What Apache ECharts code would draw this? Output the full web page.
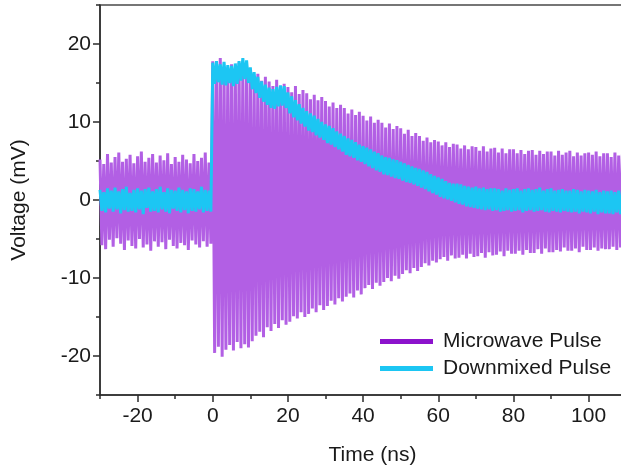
<!DOCTYPE html>
<html>
<head>
<meta charset="utf-8">
<script src="https://cdn.jsdelivr.net/npm/echarts@6/dist/echarts.min.js"></script>
<style>html,body{margin:0;padding:0;background:#fff}#c{width:621px;height:473px}</style>
</head>
<body>
<div id="c"></div>
<script>
// Time grid of the sampled traces (ns)
const T0 = -30;
const DT = 0.5;
// Microwave pulse (mV), one value every DT starting at T0
const microwave = [
  5.2,-5.8,4.6,-6.3,5.9,-5.1,4.8,-6.0,5.5,-4.9,
  6.1,-5.6,4.9,-6.4,5.3,-5.2,5.8,-5.9,4.7,-6.2,
  5.6,-5.0,6.2,-6.1,4.9,-5.7,5.4,-6.5,5.9,-5.3,
  4.8,-6.0,5.7,-5.4,5.1,-6.3,6.0,-5.1,4.6,-5.9,
  5.5,-6.2,4.9,-5.5,5.8,-5.8,5.2,-6.4,4.7,-5.2,
  5.9,-5.7,5.0,-6.1,5.4,-5.3,6.1,-6.0,4.8,-5.6,
  17.8,-19.6,16.9,-18.8,18.2,-20.1,17.1,-19.2,16.5,-18.6,
  17.4,-19.3,16.6,-18.2,17.6,-19.0,16.8,-18.5,17.2,-18.9,
  16.4,-18.1,15.6,-17.4,16.2,-16.9,15.3,-17.6,15.8,-16.3,
  15.2,-16.8,14.6,-15.9,15.4,-16.4,14.3,-15.4,14.9,-16.0,
  14.5,-15.6,13.8,-14.9,14.6,-15.2,13.6,-14.4,14.1,-15.0,
  13.7,-14.6,12.9,-13.9,13.5,-14.4,12.8,-13.5,13.2,-14.1,
  12.7,-13.6,12.0,-12.9,12.5,-13.4,11.8,-12.6,12.2,-13.0,
  11.8,-12.4,11.1,-12.0,11.6,-12.5,10.9,-11.6,11.3,-12.1,
  10.8,-11.3,10.2,-10.9,10.7,-11.4,9.9,-10.6,10.3,-11.0,
  9.9,-10.5,9.3,-10.0,9.8,-10.4,9.1,-9.7,9.5,-10.1,
  9.2,-9.5,8.5,-9.0,9.0,-9.4,8.2,-8.7,8.6,-9.1,
  8.2,-8.6,7.6,-8.1,8.0,-8.4,7.4,-7.8,7.7,-8.0,
  7.5,-7.6,7.0,-7.3,7.4,-7.8,6.8,-7.1,7.2,-7.5,
  7.1,-7.4,6.6,-7.0,7.0,-7.5,6.5,-6.9,6.9,-7.3,
  6.8,-7.2,6.3,-6.8,6.9,-7.4,6.2,-6.7,6.6,-7.1,
  6.7,-7.0,6.1,-6.6,6.6,-7.2,6.0,-6.5,6.5,-6.9,
  6.5,-6.9,6.0,-6.5,6.4,-7.0,5.9,-6.4,6.3,-6.8,
  6.4,-6.8,5.8,-6.3,6.3,-6.9,5.9,-6.2,6.2,-6.7,
  6.2,-6.7,5.7,-6.4,6.3,-6.6,5.8,-6.1,6.1,-6.5,
  6.3,-6.5,5.6,-6.2,6.1,-6.7,5.7,-6.0,6.0,-6.4,
  6.1,-6.4,5.8,-6.1,6.2,-6.5,5.6,-6.2,6.0,-6.3,
  6.0,-6.3,5.5,-6.0,6.1,-6.4,5.7,-6.1,5.9,-6.2
];
// Downmixed pulse (mV), one value every DT starting at T0
const downmixed = [
  1.3,-1.4,1.0,-1.6,1.5,-1.1,1.2,-1.5,1.6,-1.2,
  1.1,-1.7,1.4,-1.3,1.7,-1.5,0.9,-1.4,1.3,-1.6,
  1.5,-1.2,1.2,-1.8,1.4,-1.0,1.6,-1.5,1.1,-1.4,
  1.4,-1.6,1.7,-1.2,1.0,-1.5,1.5,-1.7,1.3,-1.1,
  1.2,-1.4,1.6,-1.6,1.3,-1.3,1.1,-1.7,1.5,-1.4,
  1.4,-1.5,1.1,-1.2,1.7,-1.6,1.3,-1.4,1.2,-1.5,
  17.6,14.9,17.8,15.1,17.4,14.8,17.7,14.7,17.3,15.0,
  17.2,14.6,17.5,14.9,17.8,15.3,18.2,15.5,17.9,15.0,
  17.0,14.2,16.4,13.7,15.8,13.1,15.2,12.6,14.8,12.2,
  14.4,11.8,14.2,11.7,14.5,12.0,14.7,12.1,14.6,11.8,
  13.8,11.1,13.3,10.6,12.8,10.2,12.3,9.8,11.8,9.4,
  11.4,8.9,11.1,8.7,10.8,8.3,10.4,8.0,10.0,7.7,
  9.7,7.3,9.5,7.1,9.2,6.8,8.8,6.5,8.5,6.2,
  8.2,5.8,7.9,5.6,7.7,5.4,7.4,5.1,7.1,4.9,
  6.9,4.6,6.7,4.3,6.5,4.1,6.2,3.8,6.0,3.6,
  5.7,3.3,5.5,3.2,5.4,3.0,5.2,2.8,5.1,2.7,
  4.9,2.5,4.7,2.3,4.5,2.2,4.3,2.0,4.1,1.8,
  4.0,1.6,3.8,1.4,3.6,1.1,3.3,0.9,3.1,0.7,
  2.9,0.4,2.7,0.2,2.4,0.1,2.2,-0.1,2.1,-0.3,
  2.1,-0.5,2.0,-0.6,1.8,-0.8,1.7,-0.9,1.6,-1.0,
  1.7,-1.1,1.5,-1.2,1.6,-1.3,1.4,-1.2,1.5,-1.4,
  1.5,-1.3,1.4,-1.5,1.2,-1.4,1.5,-1.3,1.3,-1.5,
  1.4,-1.4,1.5,-1.3,1.2,-1.6,1.4,-1.4,1.5,-1.3,
  1.3,-1.5,1.4,-1.4,1.6,-1.3,1.2,-1.5,1.4,-1.6,
  1.5,-1.4,1.2,-1.5,1.3,-1.6,1.4,-1.4,1.2,-1.5,
  1.2,-1.6,1.4,-1.5,1.3,-1.7,1.1,-1.5,1.3,-1.6,
  1.2,-1.7,1.1,-1.5,1.3,-1.8,1.0,-1.6,1.2,-1.7,
  1.1,-1.7,1.2,-1.8,1.0,-1.6,1.2,-1.8,1.1,-1.7
];
// Axis ticks
const xMajorTicks = [-20, 0, 20, 40, 60, 80, 100];
const xMinorTicks = [-30, -10, 10, 30, 50, 70, 90, 110];
const yMajorTicks = [-20, -10, 0, 10, 20];
const yMinorTicks = [-25, -15, -5, 5, 15, 25];
const seriesNames = ['Microwave Pulse', 'Downmixed Pulse'];

const toXY = arr => arr.map((v, i) => [T0 + i * DT, v]);
const FONT = 'Liberation Sans, Arial, sans-serif';
const AX = '#2b2b2b';

const chart = echarts.init(document.getElementById('c'), null, {renderer: 'canvas'});
chart.setOption({
  animation: false,
  backgroundColor: '#fff',
  grid: {left: 100, top: 5, width: 545, height: 390, containLabel: false, outerBoundsMode: 'none',
         show: true, borderColor: '#4a4a4a', borderWidth: 1.5, backgroundColor: 'transparent'},
  xAxis: [{
    type: 'value', min: -30, max: 115,
    name: 'Time (ns)', nameLocation: 'middle', nameGap: 50,
    nameTextStyle: {fontFamily: FONT, fontSize: 21, color: '#1a1a1a'},
    axisLine: {show: true, onZero: false, lineStyle: {color: AX, width: 1.5}},
    axisTick: {show: true, inside: false, length: 7, lineStyle: {color: AX, width: 1.5}, customValues: xMajorTicks},
    axisLabel: {show: true, margin: 11, fontFamily: FONT, fontSize: 21, color: '#1a1a1a', customValues: xMajorTicks},
    splitLine: {show: false}
  }, {
    type: 'value', min: -30, max: 115, position: 'bottom',
    axisLine: {show: false, onZero: false},
    axisTick: {show: true, inside: false, length: 4, lineStyle: {color: AX, width: 1.5}, customValues: xMinorTicks},
    axisLabel: {show: false},
    splitLine: {show: false}
  }],
  yAxis: [{
    type: 'value', min: -25, max: 25,
    name: 'Voltage (mV)', nameLocation: 'middle', nameGap: 70,
    nameTextStyle: {fontFamily: FONT, fontSize: 21, color: '#1a1a1a'},
    axisLine: {show: true, onZero: false, lineStyle: {color: AX, width: 1.5}},
    axisTick: {show: true, inside: false, length: 7, lineStyle: {color: AX, width: 1.5}, customValues: yMajorTicks},
    axisLabel: {show: true, margin: 9, fontFamily: FONT, fontSize: 21, color: '#1a1a1a', customValues: yMajorTicks},
    splitLine: {show: false}
  }, {
    type: 'value', min: -25, max: 25, position: 'left',
    axisLine: {show: false, onZero: false},
    axisTick: {show: true, inside: false, length: 4, lineStyle: {color: AX, width: 1.5}, customValues: yMinorTicks},
    axisLabel: {show: false},
    splitLine: {show: false}
  }],
  legend: {
    orient: 'vertical', left: 375, top: 326, itemGap: 6,
    icon: 'rect', itemWidth: 53, itemHeight: 5,
    textStyle: {fontFamily: FONT, fontSize: 21, color: '#1a1a1a', padding: [0, 0, 0, 5]},
    data: seriesNames
  },
  series: [{
    name: seriesNames[0], type: 'line', data: toXY(microwave),
    xAxisIndex: 0, yAxisIndex: 0,
    showSymbol: false, symbol: 'none', sampling: null,
    color: '#8c12cc',
    lineStyle: {color: '#b25fe4', width: 3},
    z: 2
  }, {
    name: seriesNames[1], type: 'line', data: toXY(downmixed),
    xAxisIndex: 0, yAxisIndex: 0,
    showSymbol: false, symbol: 'none', sampling: null,
    color: '#1cc6f3',
    lineStyle: {color: '#1cc6f3', width: 3},
    z: 3
  }]
});
</script>
</body>
</html>
